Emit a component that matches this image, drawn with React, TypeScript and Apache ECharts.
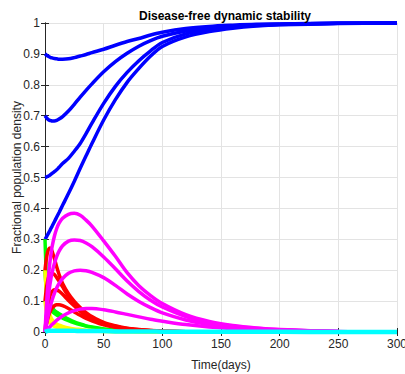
import React, { useEffect, useRef } from "react";
import * as echarts from "echarts";

const T = [0, 1, 2, 3, 4, 5, 6, 8, 10, 12, 15, 20, 25, 30, 35, 40, 50, 60, 70, 80, 90, 100, 120, 140, 160, 180, 200, 250, 300];

const S90 = [0.9, 0.897, 0.894, 0.892, 0.89, 0.888, 0.887, 0.885, 0.884, 0.883, 0.883, 0.884, 0.888, 0.893, 0.898, 0.904, 0.915, 0.928, 0.94, 0.95, 0.961, 0.97, 0.982, 0.989, 0.993, 0.996, 0.997, 0.999, 1.0];
const S70 = [0.7, 0.695, 0.69, 0.687, 0.685, 0.684, 0.683, 0.683, 0.685, 0.689, 0.697, 0.715, 0.737, 0.76, 0.782, 0.803, 0.842, 0.875, 0.902, 0.925, 0.943, 0.957, 0.974, 0.985, 0.991, 0.994, 0.996, 0.999, 1.0];
const S50 = [0.5, 0.501, 0.503, 0.505, 0.507, 0.51, 0.513, 0.519, 0.525, 0.533, 0.545, 0.562, 0.585, 0.61, 0.642, 0.676, 0.74, 0.795, 0.84, 0.878, 0.91, 0.937, 0.965, 0.978, 0.987, 0.992, 0.995, 0.999, 1.0];
const S30 = [0.3, 0.306, 0.313, 0.32, 0.327, 0.335, 0.342, 0.357, 0.372, 0.387, 0.41, 0.448, 0.488, 0.53, 0.57, 0.61, 0.686, 0.752, 0.808, 0.853, 0.893, 0.924, 0.955, 0.972, 0.983, 0.99, 0.994, 0.998, 1.0];

const G1 = [0.3, 0.2, 0.15, 0.12, 0.1, 0.088, 0.08, 0.07, 0.064, 0.059, 0.052, 0.042, 0.033, 0.026, 0.02, 0.016, 0.01, 0.006, 0.004, 0.0025, 0.0015, 0.001, 0, 0, 0, 0, 0, 0, 0];
const G2 = [0.2, 0.14, 0.108, 0.09, 0.08, 0.072, 0.067, 0.06, 0.055, 0.051, 0.045, 0.037, 0.03, 0.024, 0.019, 0.015, 0.009, 0.0055, 0.0035, 0.002, 0.0013, 0.0008, 0, 0, 0, 0, 0, 0, 0];

const Y1 = [0.2, 0.14, 0.1, 0.075, 0.058, 0.047, 0.04, 0.031, 0.026, 0.022, 0.018, 0.013, 0.01, 0.008, 0.006, 0.005, 0.003, 0.002, 0.001, 0.001, 0, 0, 0, 0, 0, 0, 0, 0, 0];
const Y2 = [0.1, 0.07, 0.052, 0.04, 0.032, 0.027, 0.023, 0.018, 0.015, 0.013, 0.011, 0.008, 0.006, 0.005, 0.004, 0.003, 0.002, 0.001, 0.001, 0, 0, 0, 0, 0, 0, 0, 0, 0, 0];

const R1 = [0.2, 0.232, 0.255, 0.267, 0.272, 0.27, 0.262, 0.238, 0.21, 0.186, 0.157, 0.124, 0.099, 0.079, 0.063, 0.05, 0.031, 0.02, 0.012, 0.008, 0.005, 0.003, 0.0012, 0.0005, 0.0002, 0, 0, 0, 0];
const R2 = [0.1, 0.135, 0.16, 0.176, 0.185, 0.189, 0.19, 0.186, 0.176, 0.165, 0.146, 0.116, 0.092, 0.072, 0.057, 0.045, 0.028, 0.018, 0.011, 0.007, 0.0045, 0.0028, 0.001, 0.0004, 0.0001, 0, 0, 0, 0];
const R3 = [0, 0.04, 0.072, 0.096, 0.113, 0.124, 0.131, 0.137, 0.136, 0.132, 0.122, 0.102, 0.084, 0.067, 0.053, 0.042, 0.026, 0.016, 0.01, 0.0065, 0.004, 0.0025, 0.001, 0.0004, 0.0001, 0, 0, 0, 0];
const R4 = [0, 0.02, 0.038, 0.052, 0.063, 0.071, 0.077, 0.085, 0.088, 0.088, 0.085, 0.076, 0.065, 0.054, 0.044, 0.036, 0.023, 0.015, 0.0095, 0.006, 0.004, 0.0025, 0.001, 0.0004, 0.0001, 0, 0, 0, 0];

const MA = [0, 0.07, 0.13, 0.18, 0.22, 0.25, 0.275, 0.31, 0.335, 0.352, 0.368, 0.381, 0.384, 0.378, 0.362, 0.343, 0.295, 0.245, 0.192, 0.15, 0.118, 0.092, 0.056, 0.034, 0.021, 0.013, 0.008, 0.002, 0.0005];
const MB = [0, 0.045, 0.085, 0.12, 0.148, 0.172, 0.192, 0.222, 0.245, 0.262, 0.279, 0.294, 0.298, 0.296, 0.288, 0.276, 0.243, 0.205, 0.165, 0.131, 0.103, 0.081, 0.05, 0.031, 0.019, 0.012, 0.007, 0.002, 0.0005];
const MC = [0, 0.02, 0.04, 0.058, 0.075, 0.09, 0.103, 0.125, 0.143, 0.157, 0.173, 0.19, 0.198, 0.2, 0.198, 0.193, 0.176, 0.151, 0.123, 0.099, 0.079, 0.062, 0.039, 0.024, 0.015, 0.009, 0.006, 0.0015, 0.0004];
const MD = [0, 0.004, 0.008, 0.012, 0.016, 0.02, 0.024, 0.031, 0.038, 0.044, 0.052, 0.062, 0.069, 0.074, 0.076, 0.076, 0.072, 0.065, 0.057, 0.049, 0.041, 0.035, 0.024, 0.016, 0.011, 0.007, 0.005, 0.0015, 0.0004];

const C1 = [0, 0.002, 0.003, 0.004, 0.004, 0.004, 0.004, 0.004, 0.004, 0.004, 0.004, 0.004, 0.004, 0.003, 0.003, 0.003, 0.003, 0.002, 0.002, 0.002, 0.002, 0.001, 0.001, 0.001, 0.001, 0.0005, 0.0005, 0.0002, 0.0001];

const X_TICKS = [0, 50, 100, 150, 200, 250, 300];
const Y_TICKS = [0, 0.1, 0.2, 0.3, 0.4, 0.5, 0.6, 0.7, 0.8, 0.9, 1];

const GROUPS: { color: string; width: number; curves: number[][] }[] = [
  { color: "#0000ff", width: 3.5, curves: [S90, S70, S50, S30] },
  { color: "#00ff00", width: 3.5, curves: [G1, G2] },
  { color: "#ffff00", width: 3.5, curves: [Y1, Y2] },
  { color: "#ff0000", width: 3.5, curves: [R1, R2, R3, R4] },
  { color: "#ff00ff", width: 3.5, curves: [MA, MB, MC, MD] },
  { color: "#00ffff", width: 4.5, curves: [C1] },
];

const FONT = "'Liberation Sans', Arial, Helvetica, sans-serif";
const AX = "#262626";
const GRID = "#e3e3e3";

export default function App() {
  const ref = useRef<HTMLDivElement>(null);
  useEffect(() => {
    if (!ref.current) return;
    const chart = echarts.init(ref.current, undefined, { renderer: "svg" });
    const series: any[] = [];
    GROUPS.forEach((g) => {
      g.curves.forEach((vals) => {
        series.push({
          type: "line",
          data: T.map((t, i) => [t, vals[i]]),
          showSymbol: false,
          smooth: 0.3,
          clip: false,
          lineStyle: { color: g.color, width: g.width },
          itemStyle: { color: g.color },
          z: 3,
        });
      });
    });
    const yFmt = (v: number) => (v === 0 ? "0" : v === 1 ? "1" : v.toFixed(1));
    chart.setOption({
      animation: false,
      title: {
        text: "Disease-free dynamic stability",
        left: 220,
        top: 5,
        textAlign: "center",
        textStyle: { fontFamily: FONT, fontSize: 12, fontWeight: "bold", color: "#000" },
      },
      grid: { left: 45, right: 8, top: 23, bottom: 42, containLabel: false, outerBoundsMode: "none" },
      xAxis: [
        {
          type: "value",
          min: X_TICKS[0],
          max: X_TICKS[X_TICKS.length - 1],
          interval: X_TICKS[1] - X_TICKS[0],
          name: "Time(days)",
          nameLocation: "middle",
          nameGap: 27,
          nameMoveOverlap: false,
          nameTextStyle: { fontFamily: FONT, fontSize: 12, color: AX },
          axisLine: { show: true, lineStyle: { color: AX, width: 1 } },
          axisTick: { show: true, inside: true, length: 4, lineStyle: { color: AX } },
          axisLabel: { fontFamily: FONT, fontSize: 12, color: AX, margin: 6 },
          splitLine: { show: true, lineStyle: { color: GRID, width: 1 } },
        },
        {
          type: "value",
          position: "top",
          min: X_TICKS[0],
          max: X_TICKS[X_TICKS.length - 1],
          interval: X_TICKS[1] - X_TICKS[0],
          axisLine: { show: true, lineStyle: { color: AX, width: 1 } },
          axisTick: { show: true, inside: true, length: 4, lineStyle: { color: AX } },
          axisLabel: { show: false },
          splitLine: { show: false },
        },
      ],
      yAxis: [
        {
          type: "value",
          min: Y_TICKS[0],
          max: Y_TICKS[Y_TICKS.length - 1],
          interval: 0.1,
          name: "Fractional population density",
          nameLocation: "middle",
          nameGap: 22,
          nameMoveOverlap: false,
          nameTextStyle: { fontFamily: FONT, fontSize: 12, color: AX },
          axisLine: { show: true, lineStyle: { color: AX, width: 1 } },
          axisTick: { show: true, inside: true, length: 4, lineStyle: { color: AX } },
          axisLabel: { fontFamily: FONT, fontSize: 12, color: AX, margin: 5, formatter: yFmt },
          splitLine: { show: true, lineStyle: { color: GRID, width: 1 } },
        },
        {
          type: "value",
          position: "right",
          min: Y_TICKS[0],
          max: Y_TICKS[Y_TICKS.length - 1],
          interval: 0.1,
          axisLine: { show: true, lineStyle: { color: AX, width: 1 } },
          axisTick: { show: true, inside: true, length: 4, lineStyle: { color: AX } },
          axisLabel: { show: false },
          splitLine: { show: false },
        },
      ],
      series,
    });
    return () => chart.dispose();
  }, []);
  return (
    <div
      ref={ref}
      style={{ position: "fixed", left: 0, top: 0, width: 405, height: 374, background: "#fff" }}
    />
  );
}
